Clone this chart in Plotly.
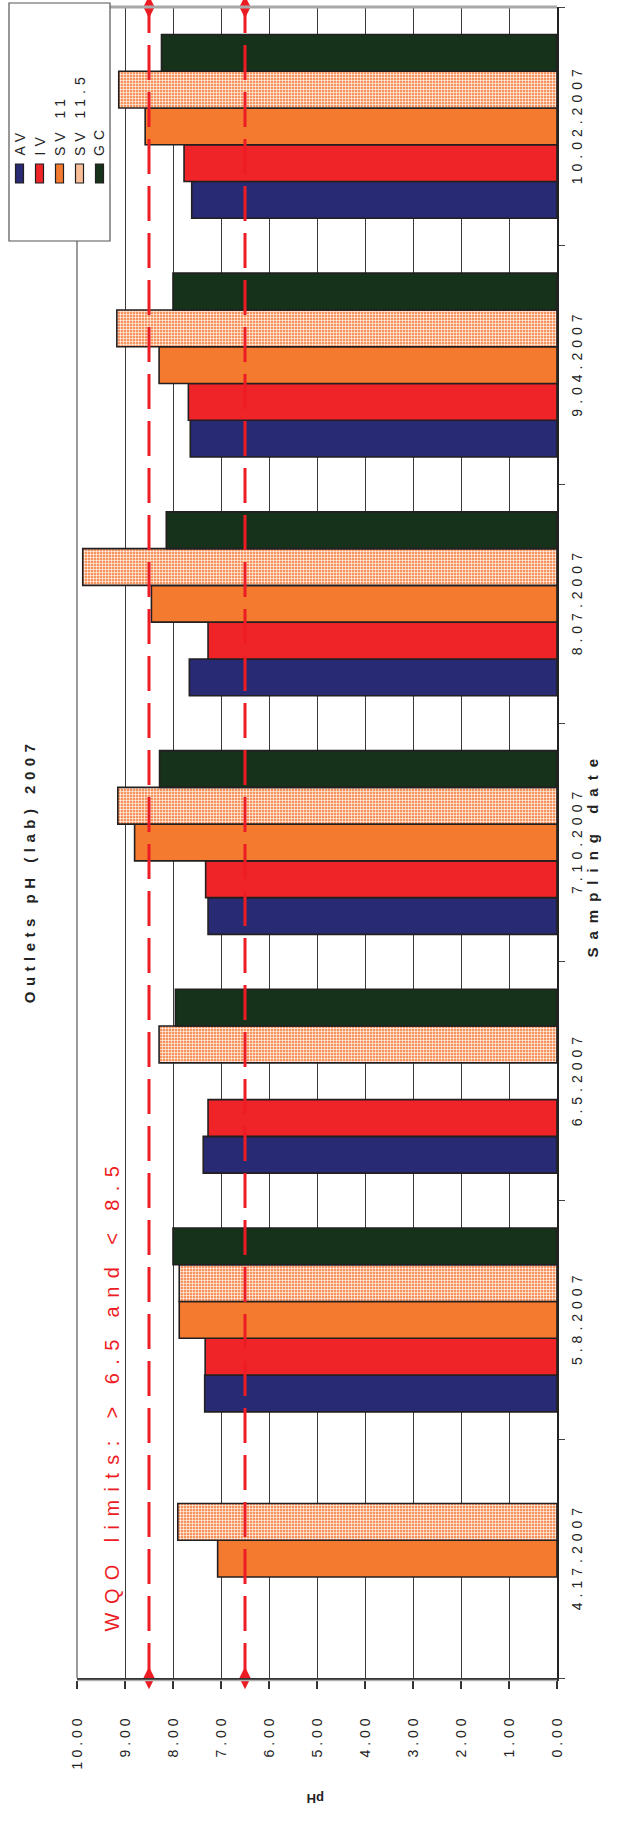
import plotly.graph_objects as go

# Sampling dates (bottom to top) and pH per outlet
dates = ["4.17.2007", "5.8.2007", "6.5.2007", "7.10.2007", "8.07.2007", "9.04.2007", "10.02.2007"]
av = [None, 7.34, 7.37, 7.27, 7.66, 7.64, 7.61]
iv = [None, 7.33, 7.27, 7.32, 7.27, 7.68, 7.77]
sv11 = [7.07, 7.87, None, 8.80, 8.45, 8.29, 8.58]
sv115 = [7.90, 7.87, 8.29, 9.15, 9.88, 9.17, 9.13]
gc = [None, 8.00, 7.95, 8.28, 8.14, 8.00, 8.24]
series_names = ["AV", "IV", "SV 11", "SV 11.5", "GC"]
ph_ticks = [0, 1, 2, 3, 4, 5, 6, 7, 8, 9, 10]
wqo_limits = [8.5, 6.5]

W, H = 627, 1822
L, R, T, B = 77, 557, 7, 1678  # plot area in page pixels

FONT = "Liberation Sans, Arial, sans-serif"
INK = "#231F20"
colors = ["#282A73", "#EE2428", "#F37A2E", "#F7A570", "#16321B"]

# extra letter spacing (px) applied to rotated lettering
LS_LEGEND, LS_TITLE, LS_XTITLE, LS_WQO = 5, 5.5, 8, 8.4


def px_x(p):
    return (p - L) / (R - L)


def px_y(p):
    return (B - p) / (B - T)


fig = go.Figure()

for name, vals, col in zip(series_names, [av, iv, sv11, sv115, gc], colors):
    marker = dict(color=col, line=dict(color=INK, width=1.6))
    if name == "SV 11.5":
        marker["pattern"] = dict(shape="+", bgcolor="#F6935C", fgcolor="#FFFFFF",
                                 size=3, solidity=0.35, fillmode="replace")
    fig.add_trace(go.Bar(x=vals, y=dates, orientation="h", name=name,
                         marker=marker, showlegend=False, hoverinfo="skip"))

# WQO limit lines with diamond end markers
for lim in wqo_limits:
    fig.add_trace(go.Scatter(x=[lim, lim], y=[0, 1], yaxis="y2", mode="lines+markers",
                             line=dict(color="#ED1C24", width=3, dash="35px,12px"),
                             marker=dict(symbol="diamond-tall", size=16, color="#ED1C24"),
                             cliponaxis=False, showlegend=False, hoverinfo="skip"))

fig.update_layout(
    width=W, height=H,
    margin=dict(l=L, r=W - R, t=T, b=H - B, pad=0),
    paper_bgcolor="white", plot_bgcolor="white",
    barmode="group", bargap=0.23, bargroupgap=0,
    font=dict(family=FONT, color="#222"),
    xaxis=dict(range=[10, 0], tickvals=ph_ticks,
               ticktext=["%.2f" % v for v in ph_ticks],
               tickangle=-90, tickfont=dict(size=14, color="#222"),
               ticks="outside", ticklen=8, tickwidth=1.5, tickcolor="#333",
               ticklabelstandoff=20,
               showgrid=True, gridcolor="#3a3a3a", gridwidth=1,
               showline=True, linecolor="#333", linewidth=2.5, zeroline=False),
    yaxis=dict(type="category", categoryorder="array", categoryarray=dates,
               side="right", tickangle=-90, tickfont=dict(size=14, color="#222"),
               tickson="boundaries", ticks="outside", ticklen=6, tickcolor="#444",
               ticklabelstandoff=6,
               showgrid=False, showline=True, linecolor="#222", linewidth=2,
               zeroline=False),
    yaxis2=dict(overlaying="y", range=[0, 1], visible=False),
)

shapes = [
    # top frame edge and left grid edge
    dict(type="line", xref="paper", yref="paper", x0=0, x1=1, y0=1, y1=1,
         line=dict(color="#A8A8A8", width=3)),
    dict(type="line", xref="paper", yref="paper", x0=0, x1=0, y0=0, y1=1,
         line=dict(color="#9C9C9C", width=2)),
    # soft shadow under the value axis line
    dict(type="line", xref="paper", yref="paper", x0=0, x1=1,
         y0=px_y(1680.5), y1=px_y(1680.5), line=dict(color="#B0B0B0", width=1.5)),
    # legend frame
    dict(type="rect", xref="paper", yref="paper", x0=px_x(9), x1=px_x(110),
         y0=px_y(241), y1=px_y(3), line=dict(color="#555", width=1.2),
         fillcolor="white"),
]
annotations = []
legend_x = [19.5, 39.5, 59.5, 79.5, 99.5]
legend_fill = ["#282A73", "#EE2428", "#F37A2E", "#F9BE98", "#16321B"]
for name, cx, col in zip(series_names, legend_x, legend_fill):
    shapes.append(dict(type="rect", xref="paper", yref="paper",
                       x0=px_x(cx - 4), x1=px_x(cx + 4), y0=px_y(183), y1=px_y(164),
                       fillcolor=col, line=dict(color=INK, width=1.2)))
    # text bottom sits at 158 px once the letter spacing is applied
    annotations.append(dict(text=name, xref="paper", yref="paper",
                            x=px_x(cx), y=px_y(158 - len(name) * LS_LEGEND / 2),
                            xanchor="center", yanchor="bottom",
                            textangle=-90, showarrow=False,
                            font=dict(size=14, color="#222", family=FONT)))

annotations += [
    dict(text="Outlets pH (lab) 2007", xref="paper", yref="paper",
         x=px_x(19), y=px_y(871), textangle=-90, showarrow=False,
         font=dict(size=15, color="#222", family=FONT, weight="bold")),
    dict(text="Sampling date", xref="paper", yref="paper",
         x=px_x(602), y=px_y(854), textangle=-90, showarrow=False,
         font=dict(size=15, color="#222", family=FONT, weight="bold")),
    dict(text="pH", xref="paper", yref="paper",
         x=px_x(316), y=px_y(1808), textangle=180, showarrow=False,
         font=dict(size=13, color="#222", family=FONT, weight="bold")),
    dict(text="WQO limits: > 6.5 and < 8.5", xref="paper", yref="paper",
         x=px_x(112), y=px_y(1395), xanchor="center", yanchor="middle",
         textangle=-90, showarrow=False,
         font=dict(size=20, color="#ED1C24", family=FONT)),
]
fig.update_layout(shapes=shapes, annotations=annotations)

# wide letter spacing used throughout the chart's lettering
spacing_js = """
var st = document.createElement('style');
st.textContent = '.xtick text{letter-spacing:4px}.ytick text{letter-spacing:5px}';
document.head.appendChild(st);
document.querySelectorAll('.annotation-text').forEach(function(t){
  var s = t.textContent;
  var ls = '%gpx';
  if (s.indexOf('WQO') === 0) ls = '%gpx';
  else if (s === 'Sampling date') ls = '%gpx';
  else if (s.indexOf('Outlets') === 0) ls = '%gpx';
  else if (s === 'pH') ls = '0px';
  t.style.letterSpacing = ls;
});
""" % (LS_LEGEND, LS_WQO, LS_XTITLE, LS_TITLE)

fig.write_html("out.html", post_script=spacing_js)
